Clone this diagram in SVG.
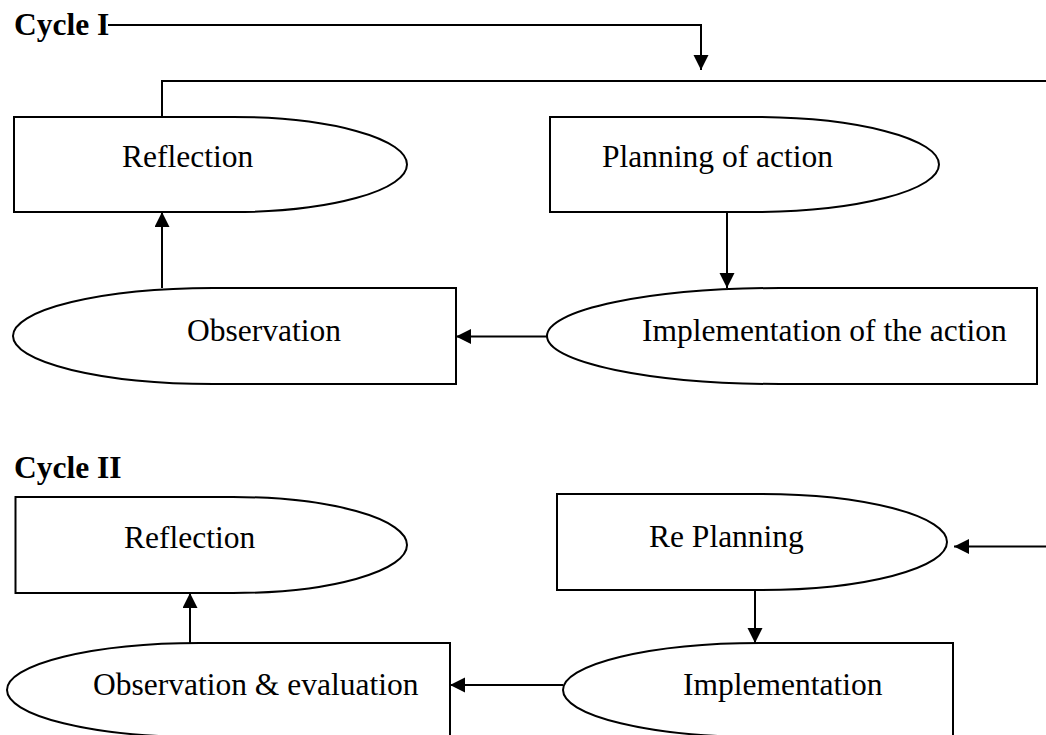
<svg xmlns="http://www.w3.org/2000/svg" width="1046" height="735" viewBox="0 0 1046 735">
<style>
.shape{fill:#fff;stroke:#000;stroke-width:2}
.conn{fill:none;stroke:#000;stroke-width:2}
.lbl{font-family:"Liberation Serif","Times New Roman",serif;font-size:31.5px;fill:#000}
.title{font-family:"Liberation Serif","Times New Roman",serif;font-size:31.5px;font-weight:bold;fill:#000}
</style>
<defs>
<marker id="arr" markerUnits="userSpaceOnUse" markerWidth="16" markerHeight="16" refX="15" refY="7.5" orient="auto">
<path d="M0,0 L15,7.5 L0,15 Z" fill="#000"/>
</marker>
</defs>
<rect width="1046" height="735" fill="#fff"/>
<text class="title" x="14" y="35">Cycle I</text>
<text class="title" x="14" y="478">Cycle II</text>
<g id="connectors">
<path class="conn" d="M108,25 H701 V70" marker-end="url(#arr)"/>
<path class="conn" d="M162,117 V81 H1046"/>
<path class="conn" d="M727,212 V288" marker-end="url(#arr)"/>
<path class="conn" d="M547,336.5 H456" marker-end="url(#arr)"/>
<path class="conn" d="M162,288 V212" marker-end="url(#arr)"/>
<path class="conn" d="M1046,546.5 H954" marker-end="url(#arr)"/>
<path class="conn" d="M755,590 V643" marker-end="url(#arr)"/>
<path class="conn" d="M563,685 H450" marker-end="url(#arr)"/>
<path class="conn" d="M190,643 V593" marker-end="url(#arr)"/>
</g>
<g id="reflection1">
<path class="shape" d="M14,117 H233 A174,47.5 0 0 1 233,212 H14 Z"/>
<text class="lbl" x="122" y="167">Reflection</text>
</g>
<g id="planning">
<path class="shape" d="M550,117 H753 A186,47.5 0 0 1 753,212 H550 Z"/>
<text class="lbl" x="602" y="167">Planning of action</text>
</g>
<g id="observation">
<path class="shape" d="M456,288 H213 A200,48 0 0 0 213,384 H456 Z"/>
<text class="lbl" x="187" y="341">Observation</text>
</g>
<g id="implementation1">
<path class="shape" d="M1037,288 H780 A233,48 0 0 0 780,384 H1037 Z"/>
<text class="lbl" x="642" y="341">Implementation of the action</text>
</g>
<g id="reflection2">
<path class="shape" d="M15.5,497 H233 A174,48 0 0 1 233,593 H15.5 Z"/>
<text class="lbl" x="124" y="548">Reflection</text>
</g>
<g id="replanning">
<path class="shape" d="M557,494 H760 A187,48 0 0 1 760,590 H557 Z"/>
<text class="lbl" x="649" y="547">Re Planning</text>
</g>
<g id="obs-eval">
<path class="shape" d="M450,643 H200 A193,47 0 0 0 200,737 H450 Z"/>
<text class="lbl" x="93" y="695">Observation &amp; evaluation</text>
</g>
<g id="implementation2">
<path class="shape" d="M953,643 H760 A197,47 0 0 0 760,737 H953 Z"/>
<text class="lbl" x="683" y="695">Implementation</text>
</g>
</svg>
